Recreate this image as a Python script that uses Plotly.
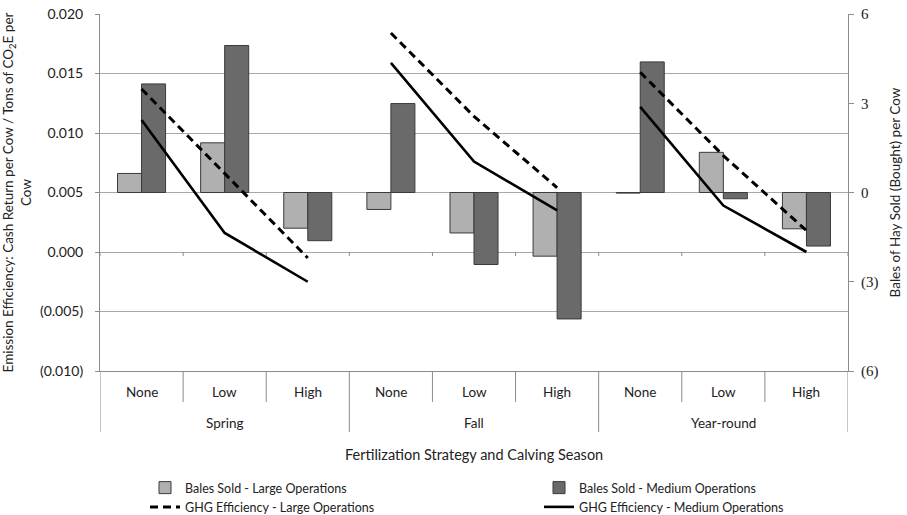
import plotly.graph_objects as go

# ---- data ----
levels = ["None", "Low", "High", "None", "Low", "High", "None", "Low", "High"]
seasons = ["Spring", "Fall", "Year-round"]
bales_large = [0.64, 1.67, -1.20, -0.57, -1.36, -2.14, -0.02, 1.35, -1.22]
bales_medium = [3.65, 4.94, -1.62, 2.99, -2.42, -4.25, 4.39, -0.21, -1.80]
ghg_large = [0.0137, 0.0066, -0.0005, 0.0184, 0.0114, 0.0054, 0.0151, 0.0081, 0.0018]
ghg_medium = [0.0111, 0.0016, -0.0025, 0.0159, 0.0076, 0.0035, 0.0122, 0.0039, 0.0000]
left_ticks = [-0.010, -0.005, 0.0, 0.005, 0.010, 0.015, 0.020]
left_ticktext = ["(0.010)", "(0.005)", "0.000", "0.005", "0.010", "0.015", "0.020"]
right_ticks = [-6, -3, 0, 3, 6]
right_ticktext = ["(6)", "(3)", "0", "3", "6"]

x = list(range(len(levels)))


def split_by_season(vals):
    """Break the line between seasons (Excel draws separate segments)."""
    xs, ys = [], []
    for i, v in enumerate(vals):
        if i > 0 and i % 3 == 0:
            xs.append(None)
            ys.append(None)
        xs.append(i)
        ys.append(v)
    return xs, ys


FONT = "Lato, Carlito, Calibri, sans-serif"
GRID = "#a8a8a8"
AXIS = "#8c8c8c"
TXT = "#222222"
PLOT_H = 357.0

fig = go.Figure()
fig.add_trace(go.Bar(x=x, y=bales_large, name="Bales Sold - Large Operations",
                     marker=dict(color="#b0b0b0", line=dict(color="#3a3a3a", width=1)),
                     yaxis="y", legend="legend"))
fig.add_trace(go.Bar(x=x, y=bales_medium, name="Bales Sold - Medium Operations",
                     marker=dict(color="#6a6a6a", line=dict(color="#3a3a3a", width=1)),
                     yaxis="y", legend="legend2"))
xl, yl = split_by_season(ghg_large)
fig.add_trace(go.Scatter(x=xl, y=yl, name="GHG Efficiency - Large Operations",
                         mode="lines", connectgaps=False,
                         line=dict(color="black", width=3, dash="8px,5px"),
                         yaxis="y2", legend="legend"))
xm, ym = split_by_season(ghg_medium)
fig.add_trace(go.Scatter(x=xm, y=ym, name="GHG Efficiency - Medium Operations",
                         mode="lines", connectgaps=False,
                         line=dict(color="black", width=2.6),
                         yaxis="y2", legend="legend2"))

# category axis decorations (dividers + labels)
shapes = []
n = len(levels)
for b in range(n + 1):
    xb = b - 0.5
    outer = (b % 3 == 0)
    shapes.append(dict(type="line", xref="x", yref="paper", x0=xb, x1=xb,
                       y0=0, y1=(-61 / PLOT_H if outer else -31 / PLOT_H),
                       line=dict(color=AXIS, width=1)))
    # small tick marks on the zero line of the efficiency axis
    shapes.append(dict(type="line", xref="x", yref="y2", x0=xb, x1=xb,
                       ysizemode="pixel", yanchor=0.0, y0=0, y1=-4,
                       line=dict(color=AXIS, width=1)))

annotations = []
for i, lab in enumerate(levels):
    annotations.append(dict(x=i, y=0, xref="x", yref="paper", text=lab, showarrow=False,
                            yshift=-21, yanchor="middle", font=dict(size=13.5, color=TXT)))
for j, s in enumerate(seasons):
    annotations.append(dict(x=3 * j + 1, y=0, xref="x", yref="paper", text=s, showarrow=False,
                            yshift=-52, yanchor="middle", font=dict(size=13.5, color=TXT)))
annotations.append(dict(x=0.5, y=0, xref="paper", yref="paper",
                        text="Fertilization Strategy and Calving Season", showarrow=False,
                        yshift=-83, yanchor="middle", font=dict(size=14.5, color=TXT)))

fig.update_layout(
    width=907, height=515,
    margin=dict(l=100, r=59, t=14, b=144, autoexpand=False),
    paper_bgcolor="white", plot_bgcolor="white",
    font=dict(family=FONT, size=13, color=TXT),
    barmode="group", bargap=0.422, bargroupgap=0,
    xaxis=dict(range=[-0.5, n - 0.5], showticklabels=False, showgrid=False, zeroline=False,
               showline=True, linecolor=AXIS, linewidth=1, ticks="", automargin=False),
    yaxis=dict(side="right", range=[-6, 6], tickvals=right_ticks, ticktext=right_ticktext,
               showgrid=False, zeroline=False, showline=True, linecolor=AXIS, linewidth=1,
               ticks="outside", ticklen=5, tickcolor=AXIS, ticklabelstandoff=4,
               automargin=False, ticklabeloverflow="allow",
               tickfont=dict(family="Liberation Serif, DejaVu Serif, serif", size=15, color=TXT),
               title=dict(text="Bales of Hay Sold (Bought) per Cow", standoff=13,
                          font=dict(size=13.5))),
    yaxis2=dict(side="left", overlaying="y", range=[-0.010, 0.020], tickvals=left_ticks,
                ticktext=left_ticktext, showgrid=True, gridcolor=GRID, gridwidth=1,
                zeroline=False, showline=True, linecolor=AXIS, linewidth=1,
                ticks="outside", ticklen=4, tickcolor=AXIS, ticklabelstandoff=9,
                automargin=False, ticklabeloverflow="allow",
                tickfont=dict(size=14, color=TXT),
                title=dict(text="Emission Efficiency: Cash Return per Cow / Tons of CO<sub>2</sub>E per<br>Cow",
                           standoff=5, font=dict(size=13.5))),
    legend=dict(x=45 / 748, y=-102 / PLOT_H, xanchor="left", yanchor="top", orientation="v",
                font=dict(size=12.5), bgcolor="rgba(0,0,0,0)", tracegroupgap=0, itemwidth=30),
    legend2=dict(x=439 / 748, y=-102 / PLOT_H, xanchor="left", yanchor="top", orientation="v",
                 font=dict(size=12.5), bgcolor="rgba(0,0,0,0)", tracegroupgap=0, itemwidth=30),
    shapes=shapes, annotations=annotations,
)

# remove the page's default 8px body margin so the figure fills the window exactly
fig.write_html("out.html", config={"displayModeBar": False},
               post_script="document.body.style.margin='0';document.body.style.overflow='hidden';")
